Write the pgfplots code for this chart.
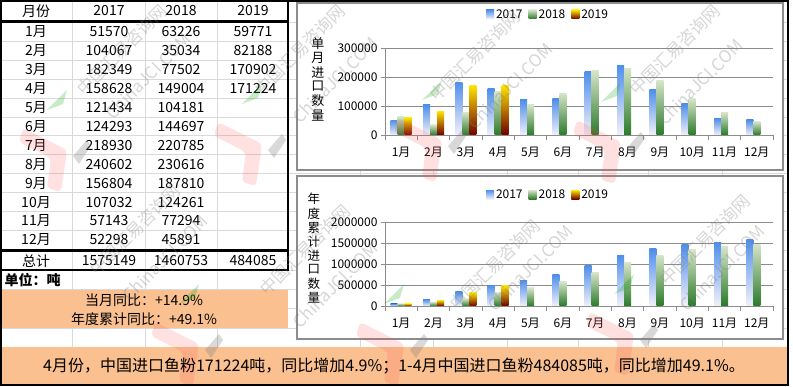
\documentclass[border=0pt]{standalone}
\usepackage{fontspec}
\setmainfont{Noto Sans CJK SC}
\usepackage{pgfplots}
\pgfplotsset{compat=1.18}
\definecolor{orng}{HTML}{FAC090}
\definecolor{gridc}{HTML}{D9D9D9}
\definecolor{bluT}{HTML}{4F8FEA}
\definecolor{bluB}{HTML}{F2F0FA}
\definecolor{grnT}{HTML}{D6E4C8}
\definecolor{grnB}{HTML}{2A7A2A}
\definecolor{redT}{HTML}{FFE400}
\definecolor{redM}{HTML}{FF3A00}
\definecolor{redB}{HTML}{6E0000}
\definecolor{axgray}{HTML}{8C8C8C}
\newcommand{\tf}{\fontsize{14}{16}\selectfont}
\pgfplotsset{
  mybar/.style={
    scale only axis, width=388pt,
    xmin=0.5, xmax=12.5, ymin=0,
    xtick={1,...,12},
    xticklabels={1月,2月,3月,4月,5月,6月,7月,8月,9月,10月,11月,12月},
    minor xtick={0.5,1.5,...,12.5},
    tick align=outside,
    major tick length=4pt, minor tick length=5pt,
    major x tick style={draw=none},
    axis x line*=bottom, axis y line*=left,
    ymajorgrids, grid style={axgray, line width=0.8pt},
    axis line style={axgray, line width=0.8pt},
    every tick/.style={axgray},
    minor tick style={axgray},
    scaled y ticks=false,
    /pgf/number format/.cd, fixed, 1000 sep={}, assume math mode=true, /pgfplots/.cd,
    tick label style={font=\fontsize{12}{12}\selectfont},
    xticklabel style={yshift=-5pt},
    legend style={draw=none, fill=none, legend columns=3, font=\fontsize{12}{12}\selectfont,
      /tikz/every even column/.append style={column sep=4pt}},
    legend image code/.code={\path[#1,draw=none] (0pt,-4pt) rectangle (8pt,5pt);},
  },
  s17/.style={ybar, bar width=7pt, bar shift=-7pt, draw=none, top color=bluT, bottom color=bluB},
  s18/.style={ybar, bar width=7pt, bar shift=0pt, draw=none, top color=grnT, bottom color=grnB},
  s19/.style={ybar, bar width=7pt, bar shift=7pt, draw=none, top color=redT, middle color=redM, bottom color=redB},
  f17/.style={s17, forget plot},
  f18/.style={s18, forget plot},
  f19/.style={s19, forget plot},
}
\begin{document}
\begin{tikzpicture}
\useasboundingbox (0pt,0pt) rectangle (793pt,-387pt);
\begin{scope}[x=1pt,y=1pt]
% sheet grid
\foreach \xx in {72.5,145,217.5,360,433,507,578,648,722}
  \draw[gridc, line width=0.8pt] (\xx,0) -- (\xx,-347);
\foreach \yy in {22.5,41.4,60.3,79.2,98.1,117,135.9,154.8,173.7,192.6,211.5,230.4,250,270,289,308,328,347}
  \draw[gridc, line width=0.8pt] (0,-\yy) -- (788,-\yy);
% chart boxes
\draw[fill=white, draw=axgray, line width=1.2pt] (297,-3) rectangle (783,-170);
\draw[fill=white, draw=axgray, line width=1.2pt] (297,-176) rectangle (783,-339);
\end{scope}

\begin{axis}[mybar, at={(385pt,-135pt)}, anchor=south west, height=87pt,
  ymax=300000, ytick={0,100000,200000,300000},
  legend style={at={(axis description cs:0.42,1.38)}, anchor=center},
  ylabel={\shortstack{单\\月\\进\\口\\数\\量}},
  ylabel style={font=\fontsize{13}{14}\selectfont, rotate=-90, at={(axis description cs:-0.173,0.64)}, anchor=center}]
\addplot[s17] coordinates {(1,51570)};
\addplot[s18] coordinates {(1,63226)};
\addplot[s19] coordinates {(1,59771)};
\addplot[f17] coordinates {(2,104067)};
\addplot[f17] coordinates {(3,182349)};
\addplot[f17] coordinates {(4,158628)};
\addplot[f17] coordinates {(5,121434)};
\addplot[f17] coordinates {(6,124293)};
\addplot[f17] coordinates {(7,218930)};
\addplot[f17] coordinates {(8,240602)};
\addplot[f17] coordinates {(9,156804)};
\addplot[f17] coordinates {(10,107032)};
\addplot[f17] coordinates {(11,57143)};
\addplot[f17] coordinates {(12,52298)};
\addplot[f18] coordinates {(2,35034)};
\addplot[f18] coordinates {(3,77502)};
\addplot[f18] coordinates {(4,149004)};
\addplot[f18] coordinates {(5,104181)};
\addplot[f18] coordinates {(6,144697)};
\addplot[f18] coordinates {(7,220785)};
\addplot[f18] coordinates {(8,230616)};
\addplot[f18] coordinates {(9,187810)};
\addplot[f18] coordinates {(10,124261)};
\addplot[f18] coordinates {(11,77294)};
\addplot[f18] coordinates {(12,45891)};
\addplot[f19] coordinates {(2,82188)};
\addplot[f19] coordinates {(3,170902)};
\addplot[f19] coordinates {(4,171224)};
\legend{2017,2018,2019}
\end{axis}

\begin{axis}[mybar, at={(385pt,-306pt)}, anchor=south west, height=84pt,
  ymax=2000000, ytick={0,500000,1000000,1500000,2000000},
  legend style={at={(axis description cs:0.42,1.32)}, anchor=center},
  ylabel={\shortstack{年\\度\\累\\计\\进\\口\\数\\量}},
  ylabel style={font=\fontsize{12.5}{12.5}\selectfont, rotate=-90, at={(axis description cs:-0.183,0.69)}, anchor=center}]
\addplot[s17] coordinates {(1,51570)};
\addplot[s18] coordinates {(1,63226)};
\addplot[s19] coordinates {(1,59771)};
\addplot[f17] coordinates {(2,155637)};
\addplot[f17] coordinates {(3,337986)};
\addplot[f17] coordinates {(4,496614)};
\addplot[f17] coordinates {(5,618048)};
\addplot[f17] coordinates {(6,742341)};
\addplot[f17] coordinates {(7,961271)};
\addplot[f17] coordinates {(8,1201873)};
\addplot[f17] coordinates {(9,1358677)};
\addplot[f17] coordinates {(10,1465709)};
\addplot[f17] coordinates {(11,1522852)};
\addplot[f17] coordinates {(12,1575149)};
\addplot[f18] coordinates {(2,98260)};
\addplot[f18] coordinates {(3,175762)};
\addplot[f18] coordinates {(4,324766)};
\addplot[f18] coordinates {(5,428947)};
\addplot[f18] coordinates {(6,573644)};
\addplot[f18] coordinates {(7,794429)};
\addplot[f18] coordinates {(8,1025045)};
\addplot[f18] coordinates {(9,1212855)};
\addplot[f18] coordinates {(10,1337116)};
\addplot[f18] coordinates {(11,1414410)};
\addplot[f18] coordinates {(12,1460753)};
\addplot[f19] coordinates {(2,141959)};
\addplot[f19] coordinates {(3,312861)};
\addplot[f19] coordinates {(4,484085)};
\legend{2017,2018,2019}
\end{axis}

\begin{scope}[x=1pt,y=1pt]
% table text
\node[font=\tf] at (36,-11) {月份};
\node[font=\tf] at (109,-11) {2017};
\node[font=\tf] at (181,-11) {2018};
\node[font=\tf] at (253,-11) {2019};
\foreach \m/\a/\b/\c [count=\i from 0] in {1月/51570/63226/59771, 2月/104067/35034/82188, 3月/182349/77502/170902, 4月/158628/149004/171224, 5月/121434/104181/, 6月/124293/144697/, 7月/218930/220785/, 8月/240602/230616/, 9月/156804/187810/, 10月/107032/124261/, 11月/57143/77294/, 12月/52298/45891/}{
  \node[font=\tf] at (36,{-32-18.9*\i}) {\m};
  \node[font=\tf] at (109,{-32-18.9*\i}) {\a};
  \node[font=\tf] at (181,{-32-18.9*\i}) {\b};
  \node[font=\tf] at (253,{-32-18.9*\i}) {\c};
}
\node[font=\tf] at (36,-261) {总计};
\node[font=\tf] at (109,-261) {1575149};
\node[font=\tf] at (181,-261) {1460753};
\node[font=\tf] at (253,-261) {484085};
% table borders
\draw[black, line width=2.5pt] (0,-21.5) -- (288,-21.5);
\draw[black, line width=2.5pt] (0,-250.5) -- (288,-250.5);
\draw[black, line width=2.5pt] (0,-270) -- (288,-270);
\draw[black, line width=2.5pt] (288,0) -- (288,-271);
\node[font=\tf\bfseries, anchor=west] at (1,-280) {单位：吨};
% orange boxes
\fill[orng] (0,-290) rectangle (288,-328);
\node[font=\tf] at (144,-300) {当月同比：+14.9\%};
\node[font=\tf] at (144,-319) {年度累计同比：+49.1\%};
\fill[orng] (0,-347) rectangle (788,-384);
% faint logos (watermark)
\foreach \lx/\ly in {23/128, 218/122, 398/118, 577/120, 155/322, 360/322, 590/312}{
  \begin{scope}[shift={(\lx,-\ly)}]
    \fill[red!70, opacity=0.17, rounded corners=4pt] (0,0) -- (44,-22) -- (38,-64) -- (24,-60) -- (28,-30) -- (-4,-14) -- cycle;
    \fill[green!65!black, opacity=0.22] (24,18) -- (44,38) -- (40,24) -- cycle;
    \fill[gray, opacity=0.3] (50,-28) -- (64,-12) -- (68,-18) -- (56,-36) -- cycle;
  \end{scope}
}
\node[font=\fontsize{16}{18}\selectfont] at (394,-366) {4月份，中国进口鱼粉171224吨，同比增加4.9\%；1-4月中国进口鱼粉484085吨，同比增加49.1\%。};
% watermarks
\begin{scope}[every node/.style={font=\fontsize{17}{17}\selectfont, text=gray, opacity=0.32, rotate=45, inner sep=0pt}]
\foreach \px/\py in {122/50, 300/50, 475/56, 675/50, 135/230, 305/250, 495/265, 705/240}
  \node at (\px,-\py) {中国汇易咨询网};
\foreach \px/\py in {148/76, 335/80, 510/86, 700/82, 165/258, 335/285, 530/268, 722/268}
  \node at (\px,-\py) {ChinaJCI.COM};
\end{scope}
% outer frame
\draw[black, line width=2pt] (1,-1) rectangle (788,-385);
\end{scope}
\end{tikzpicture}
\end{document}
